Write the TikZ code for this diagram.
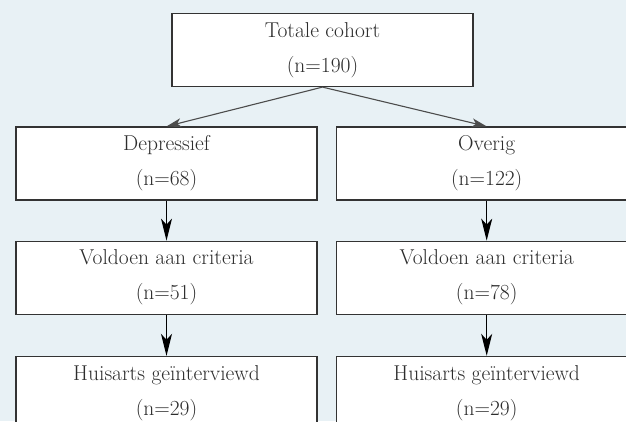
\documentclass[tikz,border=0pt]{standalone}
\usepackage{fontspec}
\usepackage{tikz}
\usetikzlibrary{positioning,arrows.meta}
\definecolor{achtergrond}{RGB}{232,241,245}
\definecolor{tekst}{RGB}{45,45,45}

\begin{document}
\begin{tikzpicture}[x=1pt, y=-1pt, font=\fontsize{21.5}{35}\selectfont,
  box/.style={draw=black!80, line width=1.2pt, fill=white, text=tekst, align=center,
    minimum width=301pt, minimum height=73pt, inner sep=0pt},
  schuin/.style={line width=1.1pt, black!70, -{Stealth[length=15pt, width=9pt, inset=4pt]}},
  pijl/.style={line width=1.2pt, black, -{Stealth[length=22pt, width=11pt, inset=6pt]}}]
  \useasboundingbox (0,0) rectangle (626,421);
  \fill[achtergrond] (0,0) rectangle (626,421);
  \clip (0,0) rectangle (626,421);
  \node[box] (totaal) at (322.5,50) {Totale cohort\\(n=190)};
  \node[box] (depr) at (166.5,163.5) {Depressief\\(n=68)};
  \node[box, right=18pt of depr] (overig) {Overig\\(n=122)};
  \node[box, below=40pt of depr] (crit1) {Voldoen aan criteria\\(n=51)};
  \node[box, below=40pt of overig] (crit2) {Voldoen aan criteria\\(n=78)};
  \node[box, below=41pt of crit1] (ha1) {Huisarts geïnterviewd\\(n=29)};
  \node[box, below=41pt of crit2] (ha2) {Huisarts geïnterviewd\\(n=29)};
  \draw[schuin] (totaal.south) -- (depr.north);
  \draw[schuin] (totaal.south) -- (overig.north);
  \draw[pijl] (depr) -- (crit1);
  \draw[pijl] (overig) -- (crit2);
  \draw[pijl] (crit1) -- (ha1);
  \draw[pijl] (crit2) -- (ha2);
\end{tikzpicture}
\end{document}
